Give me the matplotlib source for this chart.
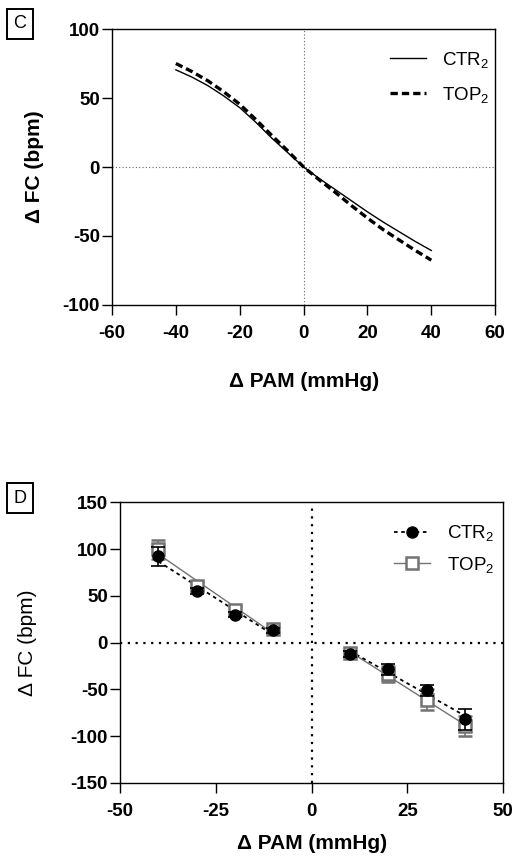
import numpy as np
import matplotlib.pyplot as plt
from matplotlib.lines import Line2D

plt.rcParams['font.family'] = ['Liberation Sans', 'DejaVu Sans']
plt.rcParams['mathtext.default'] = 'regular'
plt.rcParams['axes.unicode_minus'] = False

# Panel C: fitted curves
curve_x = [-40, -35, -30, -25, -20, -15, -10, -5, 0, 5, 10, 15, 20, 25, 30, 35, 40]
ctr_curve = [70.4, 65.2, 59, 51.5, 43, 32.5, 21, 10.5, 0, -8.5, -16.5, -24.5, -32.5, -40, -47, -54, -60.5]
top_curve = [75, 69.2, 62.5, 54.5, 45.5, 34.5, 23, 11.8, 0, -9.5, -18.5, -28, -37, -45.5, -53, -60.5, -67.5]

# Panel D: mean +/- error
pam = [-40, -30, -20, -10, 10, 20, 30, 40]
ctr_mean = [92, 55, 30, 13, -12.5, -28.6, -51, -82]
ctr_err = [10, 3, 3, 3, 3, 6, 6, 11]
top_mean = [99.6, 60.5, 34.6, 14, -11.5, -33.5, -61, -89]
top_err = [10, 4, 4, 3, 3, 9, 11, 11]

fig = plt.figure(figsize=(5.15, 8.56), dpi=100)

def style(ax):
    for s in ax.spines.values():
        s.set_linewidth(1.0)
    ax.tick_params(direction='out', length=7.2, width=1, labelsize=13.5, top=False, right=False)
    ax.tick_params(axis='x', pad=7)
    ax.tick_params(axis='y', pad=1.5)
    for lab in ax.get_xticklabels() + ax.get_yticklabels():
        lab.set_fontweight('bold')

# ---- Panel C
ax1 = fig.add_axes([0.2175, 0.6437, 0.744, 0.3224])
ax1.axhline(0, color='0.4', lw=0.8, ls=(0, (1, 2)), zorder=1)
ax1.axvline(0, color='0.4', lw=0.8, ls=(0, (1, 2)), zorder=1)
ax1.plot(curve_x, ctr_curve, color='black', lw=1.0, label='CTR$_2$')
ax1.plot(curve_x, top_curve, color='black', lw=2.4, ls=(0, (2.2, 1.2)), label='TOP$_2$')
ax1.set_xlim(-60, 60)
ax1.set_ylim(-100, 100)
ax1.set_xticks(np.arange(-60, 61, 20))
ax1.set_yticks(np.arange(-100, 101, 50))
style(ax1)
ax1.set_xlabel('Δ PAM (mmHg)', fontsize=15, fontweight='bold', labelpad=22)
ax1.set_ylabel('Δ FC (bpm)', fontsize=15, fontweight='bold', labelpad=13)
ax1.legend(loc='upper right', frameon=False, fontsize=13.5, handlelength=1.9,
           handletextpad=0.9, labelspacing=0.8, bbox_to_anchor=(1.03, 0.985))

# ---- Panel D
ax2 = fig.add_axes([0.233, 0.0853, 0.744, 0.328])
ax2.axhline(0, color='black', lw=1.6, ls=(0, (1, 2.5)), zorder=1)
ax2.axvline(0, color='black', lw=1.6, ls=(0, (1, 2.5)), zorder=1)

px = np.array(pam)
cm = np.array(ctr_mean)
tm = np.array(top_mean)
for sel in (px < 0, px > 0):
    xs = px[sel]
    b = np.polyfit(xs, tm[sel], 1)
    ax2.plot(xs, np.polyval(b, xs), color='0.45', lw=1.0, zorder=2)
    b = np.polyfit(xs, cm[sel], 1)
    ax2.plot(xs, np.polyval(b, xs), color='black', lw=1.3, ls=(0, (2, 2)), zorder=3)

ax2.errorbar(pam, top_mean, yerr=top_err, fmt='s', ms=8.5, mfc='white', mec='0.45',
             mew=1.8, ecolor='0.45', elinewidth=1.2, capsize=5, capthick=1.2, zorder=4)
ax2.errorbar(pam, ctr_mean, yerr=ctr_err, fmt='o', ms=8, color='black',
             elinewidth=1.2, capsize=5, capthick=1.2, zorder=5)

h1 = Line2D([], [], color='black', lw=1.3, ls=(0, (2, 2)), marker='o', ms=8)
h2 = Line2D([], [], color='0.45', lw=1.0, marker='s', ms=8.5, mfc='white', mec='0.45', mew=1.8)
ax2.legend([h1, h2], ['CTR$_2$', 'TOP$_2$'], loc='upper right', frameon=False,
           fontsize=13.5, handlelength=1.9, handletextpad=0.9, labelspacing=0.6,
           bbox_to_anchor=(1.02, 0.985))

ax2.set_xlim(-50, 50)
ax2.set_ylim(-150, 150)
ax2.set_xticks([-50, -25, 0, 25, 50])
ax2.set_yticks(np.arange(-150, 151, 50))
style(ax2)
ax2.set_xlabel('Δ PAM (mmHg)', fontsize=15, fontweight='bold', labelpad=10)
ax2.set_ylabel('Δ FC (bpm)', fontsize=15, fontweight='normal', labelpad=24)

# panel letters
for label, (x, y) in (('C', (0.026, 0.972)), ('D', (0.026, 0.418))):
    fig.text(x, y, label, fontsize=13, ha='left', va='center',
             bbox=dict(boxstyle='square,pad=0.35', fc='white', ec='black', lw=1.4))

fig.savefig('out.png', dpi=100)
